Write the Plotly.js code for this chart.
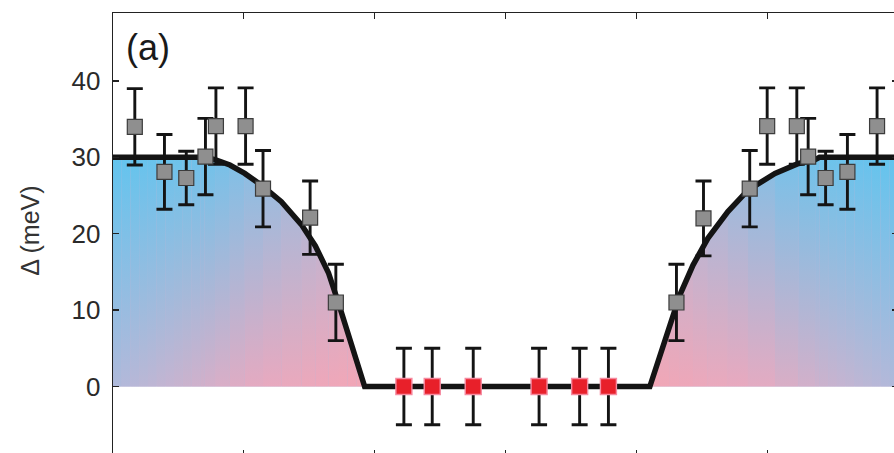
<!DOCTYPE html>
<html><head><meta charset="utf-8">
<script src="https://cdn.plot.ly/plotly-3.0.1.min.js"></script>
<style>html,body{margin:0;padding:0;overflow:hidden;background:#fff}#chart{width:902px;height:461px}</style>
</head><body><div id="chart"></div>
<script>
// Fermi-surface angle (deg) and gap values
const grayX = [2.5, 5.9, 8.4, 10.6, 11.8, 15.2, 17.2, 22.6, 25.55, 64.6, 67.7, 73.0, 75.0, 78.4, 79.7, 81.7, 84.2, 87.6];
const grayY = [34.0, 28.1, 27.3, 30.1, 34.1, 34.1, 25.9, 22.1, 11.0, 11.0, 22.0, 25.9, 34.1, 34.1, 30.1, 27.3, 28.1, 34.1];
const grayErr = [5.0, 4.9, 3.5, 5.0, 5.0, 5.0, 5.0, 4.8, 5.0, 5.0, 4.9, 5.0, 5.0, 5.0, 5.0, 3.5, 4.9, 5.0];
const redX = [33.35, 36.6, 41.3, 48.85, 53.5, 56.8];
const redY = [0, 0, 0, 0, 0, 0];
const redErr = [5, 5, 5, 5, 5, 5];
const curveX = [0, 1, 2, 3, 4, 5, 6, 7, 8, 9, 10, 10.5, 11.7, 13.4, 15.1, 17.2, 19.3, 21.6, 23.2, 24.7, 25.8, 26.9, 27.9, 28.85,
                61.55, 62.7, 63.85, 65.0, 66.5, 68.2, 70.5, 72.8, 75.9, 78.6, 80.5, 81, 82, 83, 84, 85, 86, 87, 88, 89, 90];
const curveY = [30, 30, 30, 30, 30, 30, 30, 30, 30, 30, 30, 30, 29.7, 29.0, 27.9, 26.2, 24.2, 21.2, 18.4, 14.9, 11.1, 7.3, 3.7, 0,
                0, 4.1, 8.05, 12.0, 15.9, 19.4, 22.9, 25.7, 27.9, 29.2, 29.7, 30, 30, 30, 30, 30, 30, 30, 30, 30, 30];
const yTicks = [0, 10, 20, 30, 40];
const xTicks = [15, 30, 45, 60, 75];

// ---- styling helpers (diagonal blue -> pink shading) ----
const stops = [[0,[98,196,238]],[0.22,[114,194,234]],[0.5,[182,184,216]],[0.78,[230,170,192]],[1,[242,166,182]]];
function col(t){
  t = Math.max(0, Math.min(1, t));
  for (let i = 1; i < stops.length; i++) {
    if (t <= stops[i][0]) {
      const a = stops[i-1], b = stops[i], f = (t - a[0]) / (b[0] - a[0]);
      return 'rgb(' + a[1].map((v,k) => Math.round(v + (b[1][k] - v) * f)).join(',') + ')';
    }
  }
  return 'rgb(242,166,182)';
}
const PXD = 8.72, PXV = 7.638, X0 = 113.2, Y0 = 386.5;
function tAt(deg, val){
  let px = X0 + deg * PXD; const py = Y0 - val * PXV;
  if (deg > 45) px = 2 * (X0 + 45 * PXD) - px;
  return ((px - 115) * 245 + (py - 157) * 229) / 112466;
}

const traces = [];
traces.push({x: curveX, y: curveY, mode: 'none', fill: 'tozeroy', fillcolor: 'rgb(188,182,214)', hoverinfo: 'skip', showlegend: false});
for (let i = 0; i < curveX.length - 1; i++) {
  if (curveY[i] === 0 && curveY[i+1] === 0) continue;
  const xm = (curveX[i] + curveX[i+1]) / 2;
  traces.push({
    x: [curveX[i], curveX[i], curveX[i+1], curveX[i+1]],
    y: [0, curveY[i], curveY[i+1], 0],
    mode: 'none', fill: 'toself',
    fillgradient: {type: 'vertical', start: 0, stop: 30, colorscale: [[0, col(tAt(xm, 0))], [1, col(tAt(xm, 30))]]},
    hoverinfo: 'skip', showlegend: false
  });
}
traces.push({x: curveX, y: curveY, mode: 'lines', line: {color: '#141414', width: 5.5}, hoverinfo: 'skip', showlegend: false});
traces.push({
  x: grayX, y: grayY, mode: 'markers',
  marker: {symbol: 'square', size: 15, color: '#8f8f8f', line: {color: '#3c3c3c', width: 1.2}},
  error_y: {type: 'data', array: grayErr, visible: true, color: '#141414', thickness: 2.9, width: 8},
  showlegend: false
});
traces.push({
  x: redX, y: redY, mode: 'markers',
  marker: {symbol: 'square', size: 16, color: '#e8202a', line: {color: '#f58aa0', width: 1.4}},
  error_y: {type: 'data', array: redErr, visible: true, color: '#141414', thickness: 2.9, width: 8},
  showlegend: false
});

const FONT = 'Liberation Sans, Arial, Helvetica, sans-serif';
const layout = {
  width: 902, height: 461,
  margin: {l: 113, r: 4, t: 13, b: 5},
  paper_bgcolor: '#fff', plot_bgcolor: '#fff', showlegend: false,
  xaxis: {range: [0, 90], tickvals: xTicks, ticks: 'inside', ticklen: 6, tickwidth: 1.3, tickcolor: '#222',
          showline: true, linecolor: '#222', linewidth: 1.3, mirror: 'ticks', showticklabels: false,
          showgrid: false, zeroline: false},
  yaxis: {range: [-9.1, 48.9], tickvals: yTicks, ticktext: yTicks.map(String), ticks: 'inside', ticklen: 6, tickwidth: 1.3, tickcolor: '#222',
          showline: true, linecolor: '#222', linewidth: 1.3, mirror: 'ticks', showgrid: false, zeroline: false,
          tickfont: {family: FONT, size: 26, color: '#2a2a2a'}, ticklabelstandoff: 6},
  annotations: [
    {text: '(a)', xref: 'paper', yref: 'paper', x: 0.045, y: 0.921, xanchor: 'center', yanchor: 'middle',
     showarrow: false, font: {family: FONT, size: 36, color: '#1a1a1a'}},
    {text: 'Δ (meV)', xref: 'paper', yref: 'paper', x: -0.106, y: 0.508, xanchor: 'center', yanchor: 'middle',
     textangle: -90, showarrow: false, font: {family: FONT, size: 25, color: '#333'}}
  ]
};
Plotly.newPlot('chart', traces, layout, {staticPlot: true, displayModeBar: false});
</script></body></html>
